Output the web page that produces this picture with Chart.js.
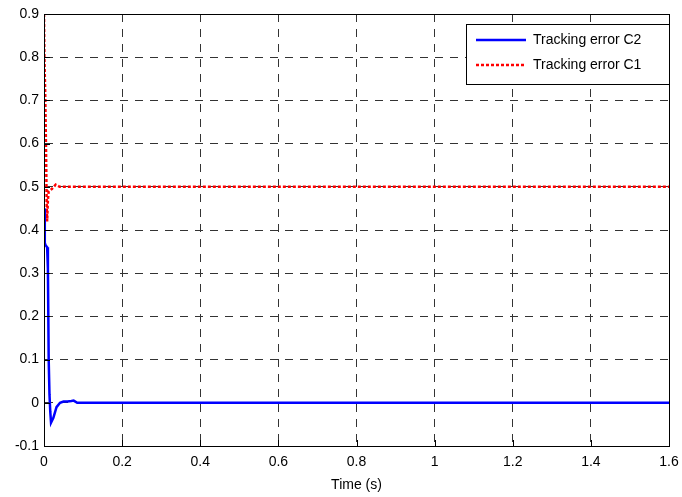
<!DOCTYPE html>
<html>
<head>
<meta charset="utf-8">
<script src="https://cdn.jsdelivr.net/npm/chart.js@4.4.0/dist/chart.umd.min.js"></script>
<style>
  html, body { margin: 0; padding: 0; background: #fff; }
  #wrap { width: 682px; height: 497px; }
</style>
</head>
<body>
<div id="wrap"><canvas id="c" width="682" height="497"></canvas></div>
<script>
// --- data ---
const timeC2 = [0, 0.002, 0.004, 0.008, 0.010, 0.012, 0.014, 0.016, 0.018, 0.024, 0.032, 0.041, 0.050, 0.060, 0.070, 0.076, 0.085, 1.6];
const errC2  = [0.45, 0.37, 0.365, 0.36, 0.31, 0.10, 0.02, -0.02, -0.046, -0.035, -0.01, 0.0, 0.003, 0.003, 0.004, 0.005, 0.0, 0.0];

const timeC1 = [0, 0.001, 0.003, 0.005, 0.007, 0.008, 0.010, 0.012, 0.020, 0.030, 0.040, 1.6];
const errC1  = [0.9, 0.80, 0.72, 0.60, 0.45, 0.42, 0.47, 0.49, 0.495, 0.505, 0.5, 0.5];

const xTicks = [0, 0.2, 0.4, 0.6, 0.8, 1, 1.2, 1.4, 1.6];
const yTicks = [-0.1, 0, 0.1, 0.2, 0.3, 0.4, 0.5, 0.6, 0.7, 0.8, 0.9];

const seriesNames = ["Tracking error C2", "Tracking error C1"];
const FONT = "'Liberation Sans', Arial, sans-serif";

function toPoints(xs, ys) {
  return xs.map((x, i) => ({ x: x, y: ys[i] }));
}

// box round the plot and a boxed legend, matlab style
const frameAndLegend = {
  id: "frameAndLegend",
  afterDraw(chart) {
    const ctx = chart.ctx;
    const a = chart.chartArea;
    ctx.save();
    ctx.strokeStyle = "#000";
    ctx.lineWidth = 1;
    ctx.setLineDash([]);
    ctx.strokeRect(a.left + 0.5, a.top + 0.5, a.right - a.left, a.bottom - a.top);

    // inward tick marks on the bottom and left
    const xs = chart.scales.x, ys = chart.scales.y;
    ctx.beginPath();
    xTicks.forEach(t => {
      const px = Math.round(xs.getPixelForValue(t)) + 0.5;
      ctx.moveTo(px, a.bottom); ctx.lineTo(px, a.bottom - 6);
    });
    yTicks.forEach(t => {
      const py = Math.round(ys.getPixelForValue(t)) + 0.5;
      ctx.moveTo(a.left, py); ctx.lineTo(a.left + 6, py);
    });
    ctx.stroke();

    // legend
    const bx = 466, by = 24, bw = a.right - 466, bh = 60;
    ctx.fillStyle = "#fff";
    ctx.fillRect(bx, by, bw, bh);
    ctx.strokeRect(bx + 0.5, by + 0.5, bw, bh);
    const ds = chart.data.datasets;
    const rows = [40, 65];
    ds.forEach((d, i) => {
      ctx.strokeStyle = d.borderColor;
      ctx.lineWidth = d.borderWidth;
      ctx.setLineDash(d.borderDash || []);
      ctx.beginPath();
      ctx.moveTo(476, rows[i]);
      ctx.lineTo(526, rows[i]);
      ctx.stroke();
      ctx.setLineDash([]);
      ctx.fillStyle = "#000";
      ctx.font = "14px " + FONT;
      ctx.textBaseline = "middle";
      ctx.fillText(d.label, 533, rows[i]);
    });
    ctx.restore();
  }
};

new Chart(document.getElementById("c"), {
  type: "line",
  data: {
    datasets: [
      {
        label: seriesNames[0],
        data: toPoints(timeC2, errC2),
        borderColor: "#0000ff",
        borderWidth: 2.5,
        pointRadius: 0,
        tension: 0
      },
      {
        label: seriesNames[1],
        data: toPoints(timeC1, errC1),
        borderColor: "#ff0000",
        borderWidth: 2.5,
        borderDash: [3, 2],
        pointRadius: 0,
        tension: 0
      }
    ]
  },
  options: {
    responsive: false,
    animation: false,
    layout: { padding: { top: 14, right: 13, left: 0, bottom: 0 } },
    plugins: { legend: { display: false }, tooltip: { enabled: false } },
    scales: {
      x: {
        type: "linear",
        min: 0, max: 1.6,
        afterBuildTicks: s => { s.ticks = xTicks.map(v => ({ value: v })); },
        afterFit: s => { s.height = 51; s.paddingRight = 13; s.paddingLeft = 0; },
        ticks: {
          color: "#000",
          font: { family: FONT, size: 14 },
          padding: 8,
          maxRotation: 0,
          callback: v => String(v)
        },
        grid: { color: "#333", lineWidth: 1, drawTicks: false },
        border: { display: true, color: "#000", dash: [8, 7] },
        title: {
          display: true,
          text: "Time (s)",
          color: "#000",
          font: { family: FONT, size: 14 },
          padding: { top: 2, bottom: 3 }
        }
      },
      y: {
        type: "linear",
        min: -0.1, max: 0.9,
        afterBuildTicks: s => { s.ticks = yTicks.map(v => ({ value: v })); },
        afterFit: s => { s.width = 44; },
        ticks: {
          color: "#000",
          font: { family: FONT, size: 14 },
          padding: 5,
          callback: v => String(Math.round(v * 10) / 10)
        },
        grid: { color: "#333", lineWidth: 1, drawTicks: false },
        border: { display: true, color: "#000", dash: [8, 7] }
      }
    }
  },
  plugins: [frameAndLegend]
});
</script>
</body>
</html>
